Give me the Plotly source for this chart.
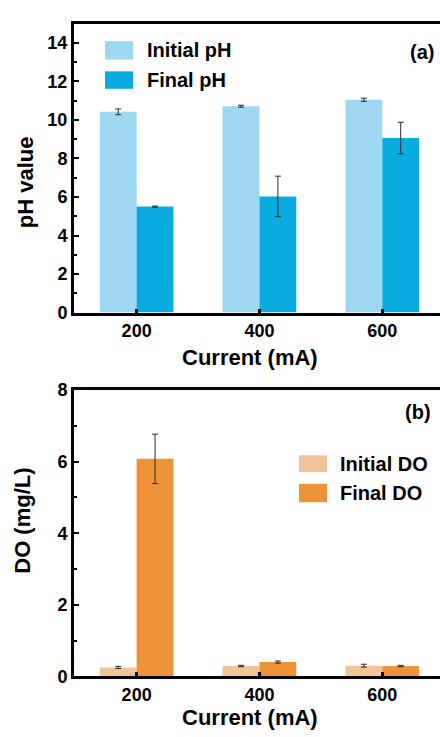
import plotly.graph_objects as go

currents = [200, 400, 600]
ph_initial = [10.42, 10.71, 11.05]
ph_initial_err = [0.15, 0.05, 0.08]
ph_final = [5.50, 6.03, 9.06]
ph_final_err = [0.03, 1.05, 0.82]
do_initial = [0.25, 0.29, 0.30]
do_initial_err = [0.03, 0.02, 0.04]
do_final = [6.08, 0.40, 0.29]
do_final_err = [0.69, 0.03, 0.02]

C_PH_I = "#9dd7f1"
C_PH_F = "#0aabe0"
C_DO_I = "#f0c398"
C_DO_F = "#ef9339"

W, H = 440, 737
FONT = "Liberation Sans, Arial, sans-serif"

def px(x):
    return x / W

def py(y):
    return 1 - y / H

fig = go.Figure()
err_style = dict(type="data", color="#2a2a2a", thickness=1, width=3, visible=True)

fig.add_trace(go.Bar(x=currents, y=ph_initial, marker_color=C_PH_I, marker_line_width=0,
                     error_y=dict(array=ph_initial_err, **err_style),
                     name="Initial pH", xaxis="x", yaxis="y", showlegend=False))
fig.add_trace(go.Bar(x=currents, y=ph_final, marker_color=C_PH_F, marker_line_width=0,
                     error_y=dict(array=ph_final_err, **err_style),
                     name="Final pH", xaxis="x", yaxis="y", showlegend=False))
fig.add_trace(go.Bar(x=currents, y=do_initial, marker_color=C_DO_I, marker_line_width=0,
                     error_y=dict(array=do_initial_err, **err_style),
                     name="Initial DO", xaxis="x2", yaxis="y2", showlegend=False))
fig.add_trace(go.Bar(x=currents, y=do_final, marker_color=C_DO_F, marker_line_width=0,
                     error_y=dict(array=do_final_err, **err_style),
                     name="Final DO", xaxis="x2", yaxis="y2", showlegend=False))

tickfont = dict(family=FONT, size=18, color="black", weight="bold")
xcommon = dict(range=[98, 694], tickvals=currents, ticktext=[str(c) for c in currents],
               showline=True, linecolor="black", linewidth=3, mirror=True,
               ticks="inside", ticklen=4, tickwidth=3, tickcolor="black",
               showgrid=False, zeroline=False, tickfont=tickfont, domain=[px(74), 1])
ycommon = dict(showline=True, linecolor="black", linewidth=3, mirror=False,
               ticks="inside", ticklen=5, tickwidth=2, tickcolor="black",
               showgrid=False, zeroline=False, tickfont=tickfont,
               minor=dict(ticks="inside", ticklen=3, tickwidth=2, tickcolor="black", dtick=1))

fig.update_layout(
    width=W, height=H, margin=dict(l=0, r=0, t=0, b=0),
    paper_bgcolor="white", plot_bgcolor="white",
    barmode="group", bargap=0.4, bargroupgap=0,
    xaxis=dict(anchor="y", **xcommon),
    yaxis=dict(anchor="x", range=[0, 15], dtick=2, tick0=0, domain=[py(311), py(14)], **ycommon),
    xaxis2=dict(anchor="y2", **xcommon),
    yaxis2=dict(anchor="x2", range=[0, 8], dtick=2, tick0=0, domain=[py(685), py(390.7)], **ycommon),
)

shapes = []
annots = []

def legend_item(x0, y0, x1, y1, color, text, tx):
    shapes.append(dict(type="rect", xref="paper", yref="paper", x0=px(x0), x1=px(x1),
                       y0=py(y1), y1=py(y0), fillcolor=color, line=dict(width=0)))
    annots.append(dict(xref="paper", yref="paper", x=px(tx), y=py((y0 + y1) / 2), text=text,
                       showarrow=False, xanchor="left", yanchor="middle",
                       font=dict(family=FONT, size=20, color="black", weight="bold")))

legend_item(105, 32, 133, 51, C_PH_I, "Initial pH", 145)
legend_item(105, 63, 133, 81, C_PH_F, "Final pH", 145)
legend_item(299, 457.7, 327, 475, C_DO_I, "Initial DO", 338)
legend_item(299, 487, 327, 506, C_DO_F, "Final DO", 338)

def label(x, y, text, size, angle=0):
    annots.append(dict(xref="paper", yref="paper", x=px(x), y=py(y), text=text, textangle=angle,
                       showarrow=False, xanchor="center", yanchor="middle",
                       font=dict(family=FONT, size=size, color="black", weight="bold")))

label(422, 43, "(a)", 20)
label(418, 413, "(b)", 20)
label(250, 357, "Current (mA)", 22)
label(250, 727.5, "Current (mA)", 22)
label(25, 177, "pH value", 22, -90)
label(23, 525, "DO (mg/L)", 22, -90)

fig.update_layout(shapes=shapes, annotations=annots)
fig.write_html("out.html")
